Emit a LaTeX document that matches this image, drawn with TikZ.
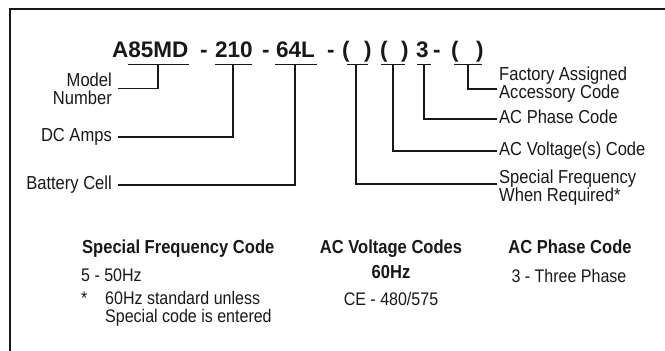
\documentclass[tikz,border=0pt]{standalone}
\usepackage{fontspec}
\setmainfont[FakeStretch=0.88]{Liberation Sans}
\newfontfamily\titlefont{Liberation Sans}
\definecolor{ink}{HTML}{1A1718}
\begin{document}
\begin{tikzpicture}[x=1pt,y=-1pt,
  txt/.style={inner sep=0pt, text=ink},
  lab/.style={txt, font=\fontsize{18.8}{18}\selectfont},
  onel/.style={text height=13.5pt, text depth=4pt},
  llab/.style={lab, anchor=east, inner xsep=6pt},
  rlab/.style={lab, anchor=west, inner xsep=2pt, align=left},
  body/.style={txt, font=\fontsize{18.2}{18}\selectfont},
  head/.style={txt, font=\fontsize{18.8}{18}\selectfont\bfseries},
  ttl/.style={txt, anchor=base west, font=\titlefont\fontsize{22.5}{22}\selectfont\bfseries},
  uline/.style={draw=ink, line width=1.3pt},
  conn/.style={draw=ink, line width=1.5pt},
  boxedge/.style={draw=ink, line width=1.8pt}]
\useasboundingbox (0,0) rectangle (665,351);

% frame (top and left edges)
\coordinate (f1) at (10,351);
\coordinate (f2) at (10,9);
\coordinate (f3) at (666,9);
\draw[boxedge] (f1) -- (f2) -- (f3);

% title tokens
\node[ttl] (n1) at (112,57) {A85MD};
\node[ttl] (d1) at (200,57) {-};
\node[ttl] (n2) at (215,57) {210};
\node[ttl] (d2) at (262,57) {-};
\node[ttl] (n3) at (276,57) {64L};
\node[ttl] (d3) at (327,57) {-};
\node[ttl] (p1) at (342,57) {(\hspace{14.5pt})};
\node[ttl] (p2) at (380,57) {(\hspace{13.5pt})};
\node[ttl] (n4) at (416,57) {3};
\node[ttl] (d4) at (433,57) {-};
\node[ttl] (p3) at (451,57) {(\hspace{17.5pt})};

% underlines
\coordinate (u1a) at (128,64.5); \coordinate (u1b) at (189,64.5);
\coordinate (u2a) at (215,64.5); \coordinate (u2b) at (252,64.5);
\coordinate (u3a) at (275,64.5); \coordinate (u3b) at (317,64.5);
\coordinate (u4a) at (347,64.5); \coordinate (u4b) at (368,64.5);
\coordinate (u5a) at (381,64.5); \coordinate (u5b) at (405,64.5);
\coordinate (u6a) at (417,64.5); \coordinate (u6b) at (431,64.5);
\coordinate (u7a) at (454,64.5); \coordinate (u7b) at (482,64.5);
\foreach \i in {1,...,7} {\draw[uline] (u\i a) -- (u\i b);}

% connector starts on the underlines
\coordinate (t1) at (158,64.5);
\coordinate (t2) at (233,64.5);
\coordinate (t3) at (295,64.5);
\coordinate (t4) at (356,64.5);
\coordinate (t5) at (393,64.5);
\coordinate (t6) at (424,64.5);
\coordinate (t7) at (468,64.5);

% labels
\node[llab, align=right] (model) at (118,88.5) {Model\\Number};
\node[llab, onel] (dc) at (118,137) {DC Amps};
\node[llab, onel] (bat) at (118,185) {Battery Cell};
\node[rlab] (fac) at (497,84.4) {Factory Assigned\\Accessory Code};
\node[rlab, onel] (acp) at (497,119) {AC Phase Code};
\node[rlab, onel] (acv) at (497,151) {AC Voltage(s) Code};
\node[rlab] (sf) at (497,187.6) {Special Frequency\\When Required*};

% connectors
\draw[conn] (t1) |- (model.east);
\draw[conn] (t2) |- (dc.east);
\draw[conn] (t3) |- (bat.east);
\draw[conn] (t4) |- ([yshift=3.6pt]sf.west);
\draw[conn] (t5) |- (acv.west);
\draw[conn] (t6) |- (acp.west);
\draw[conn] (t7) |- ([yshift=-4.6pt]fac.west);

% code tables
\node[head, anchor=base west] (h1) at (82,253) {Special Frequency Code};
\node[body, anchor=base west] (s1) at (81,281) {5 - 50Hz};
\node[body, anchor=base west] (s2) at (81,304) {*};
\node[body, anchor=base west] (s3) at (105,304) {60Hz standard unless};
\node[body, anchor=base west] (s4) at (105,322) {Special code is entered};

\node[head, anchor=base] (h2) at (391,253) {AC Voltage Codes};
\node[head, anchor=base] (h2b) at (391,278) {60Hz};
\node[body, anchor=base] (v1) at (391,305) {CE - 480/575};

\node[head, anchor=base] (h3) at (570,253) {AC Phase Code};
\node[body, anchor=base] (ph1) at (569,282) {3 - Three Phase};
\end{tikzpicture}
\end{document}
